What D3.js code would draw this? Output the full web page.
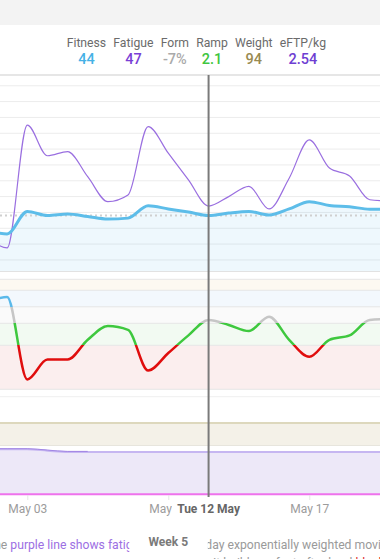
<!DOCTYPE html>
<html><head><meta charset="utf-8">
<script src="https://cdn.jsdelivr.net/npm/d3@7"></script>
<style>body{margin:0;background:#fff;font-family:Roboto,sans-serif}svg{display:block}</style>
</head><body><svg id="c" width="380" height="559"></svg>
<script>
// ---------- data ----------
const dates = ["2026-05-01","2026-05-02","2026-05-03","2026-05-04","2026-05-05","2026-05-06","2026-05-07","2026-05-08","2026-05-09","2026-05-10","2026-05-11","2026-05-12","2026-05-13","2026-05-14","2026-05-15","2026-05-16","2026-05-17","2026-05-18","2026-05-19","2026-05-20","2026-05-21"];
const fitness = [39.2,38.2,45.3,44.0,44.5,43.7,42.9,43.2,47.1,46.1,45.1,44.0,44.8,45.3,44.2,46.1,48.4,47.2,46.8,46.0,46.0];
const fatigue = [37.6,33.8,72.6,62.9,64.2,56.3,48.4,50.5,72.1,63.7,55.3,47.0,50.0,53.2,46.1,55.8,67.9,59.0,56.5,49.0,48.6];
const formPct = [9,14,-61,-43,-43,-25,-12.5,-16,-53,-37,-21,-7,-11.5,-17,-4,-25,-40.5,-25,-21,-7,-6];
const weightKg = [94,94,94,94,94,94,94,94,94,94,94,94,94,94,94,94,94,94,94,94,94];
const eftpKg = [2.575,2.575,2.575,2.557,2.54,2.54,2.54,2.54,2.54,2.54,2.54,2.54,2.54,2.54,2.54,2.54,2.54,2.54,2.54,2.54,2.54];
const formZoneBounds = [30,20,5,-10,-30,-70];
const fitnessGrid = [30,35,40,45,50,55,60,65,70,75,80,85];
const summaryLabels = ["Fitness","Fatigue","Form","Ramp","Weight","eFTP/kg"];
const summaryValues = ["44","47","-7%","2.1","94","2.54"];
const tickDates = ["2026-05-03","2026-05-10","2026-05-17"];
const cursorDate = "2026-05-12";
const cursorLabel = "Tue 12 May";
const weekLabel = "Week 5";
const helpLeft = ["The ","purple line shows fatigue"];
const helpRight = "day exponentially weighted moving average of training load";
const helpLine2 = ["It builds up fast after hard ","block days"];

// ---------- styles ----------
const summaryColors = ["#45b1e6","#7a3fd6","#aaaaaa","#3fc63f","#998a52","#6e3ed2"];
const zoneFills = ["#fdf9f1","#f3f8fd","#fafafa","#f2faf2","#fbeeee"];
const zoneLine = ["#5ab9ea","#c6c6c6","#3ec83e","#e00d0d"];

const svg = d3.select("#c");
const W = 380;
const parse = d3.timeParse("%Y-%m-%d");
const D = dates.map(parse);

const x = d3.scaleTime().domain([parse("2026-05-03"), parse("2026-05-17")]).range([27.3, 309.3]);
const yFit = d3.scaleLinear().domain([26.5, 88.4]).range([271, 75]);
const yForm = d3.scaleLinear().domain([-70, 30]).range([389.3, 279.3]);
const yW = d3.scaleLinear().domain([90, 94]).range([445, 423]);
const yE = d3.scaleLinear().domain([2.0, 2.54]).range([494, 452]);

const defs = svg.append("defs");

// top gray band
svg.append("rect").attr("x",0).attr("y",0).attr("width",W).attr("height",25).attr("fill","#f3f3f3");

// header summary
const hdr = svg.append("g");
const labelNodes = summaryLabels.map(lab => hdr.append("text").attr("y",46.5).attr("font-size",12.2).attr("fill","#6b6b6b").text(lab));
const widths = labelNodes.map(t => t.node().getComputedTextLength());
const gap = (326 - 66.7 - d3.sum(widths)) / (summaryLabels.length - 1);
let cx = 66.7;
labelNodes.forEach((t,i)=>{
  t.attr("x", cx);
  hdr.append("text").attr("x", cx + widths[i]/2).attr("y",64.3).attr("text-anchor","middle")
    .attr("font-size",14.5).attr("font-weight",500).attr("fill",summaryColors[i]).text(summaryValues[i]);
  cx += widths[i] + gap;
});

// fitness panel frame + grid
svg.append("line").attr("x1",0).attr("x2",W).attr("y1",75).attr("y2",75).attr("stroke","#dedede").attr("stroke-width",1.5);
svg.selectAll(".g").data(fitnessGrid).enter().append("line")
  .attr("x1",0).attr("x2",W).attr("y1",d=>yFit(d)).attr("y2",d=>yFit(d))
  .attr("stroke","#ececec").attr("stroke-width",1);
svg.append("line").attr("x1",0).attr("x2",W).attr("y1",271.5).attr("y2",271.5).attr("stroke","#e2e2e2").attr("stroke-width",1);

const curve = d3.curveMonotoneX;
svg.append("path").datum(fitness)
  .attr("d", d3.area().x((d,i)=>x(D[i])).y0(271).y1(d=>yFit(d)).curve(curve))
  .attr("fill","#5dbde9").attr("fill-opacity",0.1);
const ci = dates.indexOf(cursorDate);
svg.append("line").attr("x1",0).attr("x2",W).attr("y1",yFit(fitness[ci])).attr("y2",yFit(fitness[ci]))
  .attr("stroke","#cfcfcf").attr("stroke-width",2).attr("stroke-dasharray","2,3");
svg.append("path").datum(fatigue)
  .attr("d", d3.line().x((d,i)=>x(D[i])).y(d=>yFit(d)).curve(curve))
  .attr("fill","none").attr("stroke","#9a6fe0").attr("stroke-width",1.2);
svg.append("path").datum(fitness)
  .attr("d", d3.line().x((d,i)=>x(D[i])).y(d=>yFit(d)).curve(curve))
  .attr("fill","none").attr("stroke","#5dbde9").attr("stroke-width",3);

// form panel zones
for(let i=0;i<formZoneBounds.length-1;i++){
  const a=yForm(formZoneBounds[i]), b=yForm(formZoneBounds[i+1]);
  svg.append("rect").attr("x",0).attr("y",a).attr("width",W).attr("height",b-a).attr("fill",zoneFills[i]);
}
formZoneBounds.forEach(v=>{
  svg.append("line").attr("x1",0).attr("x2",W).attr("y1",yForm(v)).attr("y2",yForm(v))
    .attr("stroke","#e6e6e6").attr("stroke-width",1);
});
svg.append("line").attr("x1",0).attr("x2",W).attr("y1",396.7).attr("y2",396.7).attr("stroke","#efefef");

const gr = defs.append("linearGradient").attr("id","fg").attr("gradientUnits","userSpaceOnUse")
  .attr("x1",0).attr("x2",0).attr("y1",yForm(30)).attr("y2",yForm(-70));
const stops = [[30,5,zoneLine[0]],[5,-10,zoneLine[1]],[-10,-30,zoneLine[2]],[-30,-70,zoneLine[3]]];
stops.forEach(([hi,lo,c])=>{
  gr.append("stop").attr("offset",(30-hi)/100).attr("stop-color",c);
  gr.append("stop").attr("offset",(30-lo)/100).attr("stop-color",c);
});
svg.append("path").datum(formPct)
  .attr("d", d3.line().x((d,i)=>x(D[i])).y(d=>yForm(d)).curve(curve))
  .attr("fill","none").attr("stroke","url(#fg)").attr("stroke-width",2.5);

// weight panel
svg.append("path").datum(weightKg)
  .attr("d", d3.area().x((d,i)=>x(D[i])).y0(445).y1(d=>yW(d)))
  .attr("fill","#f4f1e8");
svg.append("path").datum(weightKg)
  .attr("d", d3.line().x((d,i)=>x(D[i])).y(d=>yW(d)))
  .attr("fill","none").attr("stroke","#ddd8bd").attr("stroke-width",2);
svg.append("line").attr("x1",0).attr("x2",W).attr("y1",445.5).attr("y2",445.5).attr("stroke","#e7e5dd");

// eFTP panel
svg.append("path").datum(eftpKg)
  .attr("d", d3.area().x((d,i)=>x(D[i])).y0(494).y1(d=>yE(d)).curve(curve))
  .attr("fill","#ede8f8");
svg.append("path").datum(eftpKg)
  .attr("d", d3.line().x((d,i)=>x(D[i])).y(d=>yE(d)).curve(curve))
  .attr("fill","none").attr("stroke","#c6b6f1").attr("stroke-width",2);
svg.append("path").datum(eftpKg.slice(0,6))
  .attr("d", d3.line().x((d,i)=>x(D[i])).y(d=>yE(d)-0.6).curve(curve))
  .attr("fill","none").attr("stroke","#9c7fe2").attr("stroke-width",0.9);
svg.append("line").attr("x1",0).attr("x2",W).attr("y1",494.3).attr("y2",494.3).attr("stroke","#ee72ec").attr("stroke-width",2);

// cursor label geometry
const cxp = x(parse(cursorDate));
const tmpc = svg.append("text").attr("font-size",12).attr("font-weight",700).text(cursorLabel);
const clw = tmpc.node().getComputedTextLength(); tmpc.remove();
const clL = cxp - clw/2 - 5, clR = cxp + clw/2 + 5;
defs.append("clipPath").attr("id","tk").append("path")
  .attr("d", `M-100,-10H${clL}V40H-100Z M${clR},-10H${W+100}V40H${clR}Z`);

// x axis
const ax = svg.append("g").attr("transform","translate(0,495)")
  .call(d3.axisBottom(x).tickValues(tickDates.map(parse)).tickFormat(d3.timeFormat("%b %d")).tickSize(5).tickPadding(4));
ax.select(".domain").remove();
ax.selectAll(".tick line").attr("stroke","#e6e6e6");
ax.selectAll(".tick text").attr("fill","#9c9c9c").attr("font-size",12).attr("font-family","Roboto, sans-serif");
ax.selectAll(".tick").each(function(){
  const t = d3.select(this);
  const tx = +t.attr("transform").match(/translate\(([-\d.]+)/)[1];
  t.select("text").attr("clip-path", null);
  const g = t.append("g").attr("clip-path","url(#tk)").attr("transform",`translate(${-tx},0)`);
  const txt = t.select("text").remove();
  g.append(()=>txt.node()).attr("x", tx);
});

// cursor
svg.append("line").attr("x1",cxp).attr("x2",cxp).attr("y1",75).attr("y2",497).attr("stroke","#7a7a7a").attr("stroke-width",2);
svg.append("text").attr("x",cxp).attr("y",513).attr("text-anchor","middle").attr("font-size",12)
  .attr("font-weight",700).attr("fill","#666").text(cursorLabel);

// help text, clipped around the week label box
const wx = x(parse("2026-05-10"));
const boxL = wx - 39, boxR = wx + 39.5;
defs.append("clipPath").attr("id","cl").append("rect").attr("x",-50).attr("y",520).attr("width",boxL+50).attr("height",60);
defs.append("clipPath").attr("id","cr").append("rect").attr("x",boxR).attr("y",520).attr("width",W).attr("height",60);
const FS = 12.2;
const tmp = svg.append("text").attr("font-size",FS).text(helpLeft[0]);
const w0 = tmp.node().getComputedTextLength(); tmp.remove();
const hl = svg.append("text").attr("x",7.3 - w0).attr("y",549).attr("font-size",FS).attr("clip-path","url(#cl)");
hl.append("tspan").attr("fill","#9a9a9a").text(helpLeft[0]);
hl.append("tspan").attr("fill","#9d6fe3").text(helpLeft[1]);
svg.append("text").attr("x",boxR-2.5).attr("y",549).attr("font-size",FS).attr("fill","#9a9a9a")
  .attr("clip-path","url(#cr)").text(helpRight);
const h2 = svg.append("text").attr("x",213).attr("y",566.5).attr("font-size",FS).attr("clip-path","url(#cr)");
h2.append("tspan").attr("fill","#9a9a9a").text(helpLine2[0]);
h2.append("tspan").attr("fill","#e03030").text(helpLine2[1]);

svg.append("text").attr("x",wx).attr("y",546).attr("text-anchor","middle").attr("font-size",12)
  .attr("font-weight",700).attr("fill","#7a7a7a").text(weekLabel);
</script></body></html>
